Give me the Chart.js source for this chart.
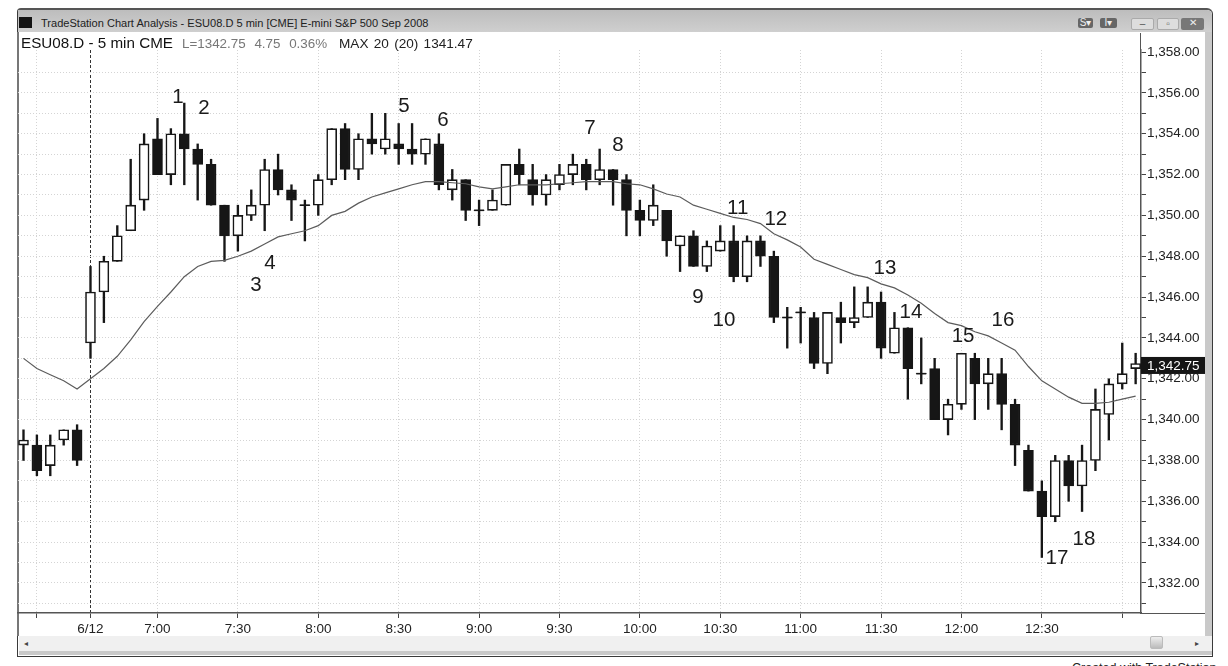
<!DOCTYPE html>
<html>
<head>
<meta charset="utf-8">
<title>ESU08.D 5 min</title>
<script src="https://cdn.jsdelivr.net/npm/chart.js@4"></script>
<style>
html,body{margin:0;padding:0;width:1228px;height:666px;overflow:hidden;background:#fff;font-family:"Liberation Sans",Arial,sans-serif;color:#1c1c1c}
.a{position:absolute;white-space:nowrap}
#win{left:17px;top:8px;width:1194px;height:646px;border:1px solid #3a3a3a;border-top:2px solid #555;border-radius:4px 6px 0 0;box-sizing:content-box;background:#fff}
#bar{left:18px;top:10px;width:1194px;height:22px;background:linear-gradient(#bdbdbd,#cfcfcf);border-radius:0 5px 0 0}
#ico{left:19px;top:17px;width:13px;height:11px;background:#141414}
#ttl{left:41px;top:17px;font-size:11.05px;color:#222}
#side{left:1205px;top:32px;width:7px;height:604px;background:#c9c9c9}
#left{left:17px;top:32px;width:2px;height:604px;background:#777}
#scroll{left:19px;top:636px;width:1193px;height:15px;background:#f0f0f0}
#strip{left:19px;top:651px;width:1193px;height:4px;background:#c9c9c9}
#hdr1{left:21px;top:34px;font-size:15.2px;color:#111;line-height:18px}
#hdr2{left:182px;top:35px;font-size:13.4px;color:#777;line-height:18px;word-spacing:5px}
#hdr3{left:339px;top:35px;font-size:13.6px;color:#222;line-height:18px;word-spacing:1.5px}
#axtop{left:1140px;top:33px;width:1px;height:18px;background:#555}
#axext{left:1141px;top:613px;width:64px;height:1px;background:#555}
.btn{top:18px;height:10px;border-radius:2px;font-size:10px;line-height:10px;text-align:center;color:#eee}
#thumb{left:1150px;top:636px;width:13px;height:13px;background:linear-gradient(#eee,#bbb);border:1px solid #bbb;border-radius:2px;box-sizing:border-box}
#la{left:24px;top:639px;font-size:8px;color:#444}
#ra{left:1195px;top:639px;font-size:8px;color:#444}
#cr{left:1072px;top:661px;font-size:12.5px;color:#222}
canvas{position:absolute;left:0;top:0}
</style>
</head>
<body>
<div class="a" id="win"></div>
<div class="a" id="bar"></div>
<div class="a" id="ico"></div>
<div class="a" id="ttl">TradeStation Chart Analysis - ESU08.D 5 min [CME] E-mini S&amp;P 500 Sep 2008</div>
<div class="a btn" style="left:1078px;width:15px;background:#666">S▾</div>
<div class="a btn" style="left:1100px;width:17px;background:#666">I▾</div>
<div class="a btn" style="left:1131px;width:23px;background:#ddd;color:#555;border:1px solid #aaa;box-sizing:border-box;height:12px">–</div>
<div class="a btn" style="left:1157px;width:22px;background:#ddd;color:#555;border:1px solid #aaa;box-sizing:border-box;height:12px">▫</div>
<div class="a btn" style="left:1181px;width:23px;background:#777;color:#eee;height:12px">✕</div>
<div class="a" id="side"></div>
<div class="a" id="left"></div>
<div class="a" id="scroll"></div>
<div class="a" id="strip"></div>
<div class="a" id="thumb"></div>
<div class="a" id="la">◂</div>
<div class="a" id="ra">▸</div>
<div class="a" id="cr">Created with TradeStation</div>
<canvas id="c" width="1228" height="666"></canvas>
<div class="a" id="hdr1">ESU08.D - 5 min CME</div>
<div class="a" id="hdr2">L=1342.75 4.75 0.36%</div>
<div class="a" id="hdr3">MAX 20 (20) 1341.47</div>
<div class="a" id="axtop"></div>
<div class="a" id="axext"></div>
<script>
// bar numbers run from -5 (prior session) to 78; bar 0 is the first of 6/12
const firstBar = -5;
const opens = [
 1338.75,1338.75,1337.75,1339,1339.5,
 1343.75,1346.25,1347.75,1349.25,1350.75,1353.75,1352,1354,1353.25,1352.5,1350.5,1349,1350,1350.5,1352.25,1351.25,1350.5,1350.5,1351.75,1354.25,1352.25,1353.75,1353.25,1353.5,1353.25,1353,
 1353.5,1351.25,1351.75,1350.25,1350.25,1350.5,1352.5,1351.75,1351,1351.5,1352,1352.5,1351.75,1352.25,1351.75,1350.25,1349.75,1350.25,1348.5,1349,1347.5,1348.25,1348.75,1347,1348.75,1348,1345,1345.25,1345,
 1342.75,1345,1344.75,1345,1345.75,1343.25,1344.5,1342.25,1342.5,1340,1340.75,1343,1341.75,1342.25,1340.75,1338.5,1336.5,1335.25,1338,1336.75,1338,1340.25,1341.75,1342.5];
const highs = [
 1339.5,1339.25,1339.25,1339.5,1339.75,
 1347.5,1348,1349.5,1352.75,1354,1354.75,1354.25,1355.5,1353.5,1352.75,1350.5,1350.5,1351.25,1352.75,1353,1351.5,1350.75,1352,1354.25,1354.5,1354,1355,1355,1354.5,1354.5,1353.75,
 1354,1352.25,1351.75,1350.75,1351.25,1352.5,1353.25,1352.5,1352,1352.5,1353,1352.75,1353.25,1352.25,1352,1350.75,1351.5,1350.25,1349,1349.25,1348.75,1349.5,1349.5,1349,1349,1348.25,1345.5,1345.5,1345.25,
 1345.25,1345.75,1346.5,1346.5,1346.25,1345.25,1344.5,1344,1343,1341,1343.25,1343.25,1343,1343,1341,1338.75,1337,1338.25,1338.25,1338.75,1341.5,1342,1343.75,1343.25];
const lows = [
 1338,1337.25,1337.25,1338.75,1337.75,
 1343,1344.75,1347.75,1349.25,1350.25,1352,1351.5,1351.5,1350.75,1350.5,1347.75,1348.25,1349.75,1349.25,1351,1349.75,1348.75,1350,1351.5,1351.75,1351.75,1353,1353,1352.5,1352.5,1352.5,
 1351.25,1350.75,1349.75,1349.5,1350.25,1350.5,1351.5,1350.5,1350.5,1351.25,1351.5,1351.25,1351.5,1350.5,1349,1349,1349.5,1348,1347.25,1347.5,1347.25,1348.25,1346.75,1346.75,1347.5,1344.75,1343.5,1343.75,1342.5,
 1342.25,1343.75,1344.5,1345,1343,1343.25,1341,1341.75,1340,1339.25,1340.5,1340,1340.5,1339.5,1337.75,1336.5,1333.25,1335,1336,1335.5,1337.5,1339,1341.5,1341.75];
const closes = [
 1339,1337.5,1338.75,1339.5,1338,
 1346.25,1347.75,1349,1350.5,1353.5,1352,1354,1353.25,1352.5,1350.5,1349,1350,1350.5,1352.25,1351.25,1350.75,1350.5,1351.75,1354.25,1352.25,1353.75,1353.5,1353.75,1353.25,1353,1353.75,
 1351.5,1351.75,1350.25,1350.25,1350.75,1352.5,1352,1351,1351.75,1352,1352.5,1351.75,1352.25,1351.75,1350.25,1349.75,1350.5,1348.75,1349,1347.5,1348.5,1348.75,1347,1348.75,1348,1345,1345,1345.25,1342.75,
 1345.25,1344.75,1345,1345.75,1343.5,1344.5,1342.5,1342.25,1340,1340.75,1343.25,1341.75,1342.25,1340.75,1338.75,1336.5,1335.25,1338,1336.75,1338,1340.5,1341.75,1342.25,1342.75];
const ma20 = [
 1343,1342.5,1342.2,1341.9,1341.5,
 1342,1342.5,1343.1,1343.9,1344.8,1345.55,1346.25,1347,1347.5,1347.75,1347.8,1348,1348.25,1348.6,1348.95,1349.1,1349.25,1349.5,1350,1350.2,1350.6,1350.9,1351.1,1351.3,1351.5,1351.65,
 1351.65,1351.6,1351.55,1351.4,1351.3,1351.4,1351.5,1351.5,1351.5,1351.55,1351.6,1351.65,1351.65,1351.65,1351.55,1351.5,1351.3,1351.05,1350.9,1350.5,1350.3,1350.1,1349.9,1349.8,1349.6,1349.1,1348.8,1348.45,1347.85,
 1347.6,1347.35,1347.1,1346.95,1346.65,1346.45,1346.1,1345.7,1345.2,1344.75,1344.6,1344.3,1344.1,1343.75,1343.4,1342.6,1341.9,1341.5,1341.1,1340.8,1340.8,1340.85,1341,1341.15];
const tickBars = [-4,0,5,11,17,23,29,35,41,47,53,59,65,71,77];
const tickLabels = ['','6/12','7:00','7:30','8:00','8:30','9:00','9:30','10:00','10:30','11:00','11:30','12:00','12:30',''];
const priceTicks = [1358,1357,1356,1355,1354,1353,1352,1351,1350,1349,1348,1347,1346,1345,1344,1343,1342,1341,1340,1339,1338,1337,1336,1335,1334,1333,1332,1331];
const noteText = ['1','2','3','4','5','6','7','8','9','10','11','12','13','14','15','16','17','18'];
const noteBar = [6.53,8.47,12.35,13.4,23.4,26.3,37.28,39.37,45.34,47.28,48.3,51.15,59.29,61.23,65.12,68.1,72.13,74.14];
const notePrice = [1355.8,1355.26,1346.59,1347.67,1355.36,1354.67,1354.28,1353.45,1346,1344.88,1350.36,1349.82,1347.42,1345.27,1344.09,1344.88,1333.22,1334.15];

const FONT = '"Liberation Sans", Arial, sans-serif';
const INK = '#161616';
const GRID = '#d4d4d4';
const money = v => v.toLocaleString('en-US',{minimumFractionDigits:2,maximumFractionDigits:2});
const bars = opens.map((o,i)=>firstBar+i);

const overlay = {
  id:'overlay',
  afterDatasetsDraw(chart){
    const {ctx,scales:{x,y}} = chart;
    ctx.save();
    ctx.fillStyle = '#1a1a1a';
    ctx.font = '20.5px '+FONT;
    ctx.textAlign = 'center';
    ctx.textBaseline = 'middle';
    noteText.forEach((t,i)=>ctx.fillText(t,x.getPixelForValue(noteBar[i]),y.getPixelForValue(notePrice[i])));
    const last = closes[closes.length-1];
    const py = y.getPixelForValue(last);
    ctx.fillStyle = '#151515';
    ctx.fillRect(chart.chartArea.right,py-6.5,64,17);
    ctx.fillStyle = '#fff';
    ctx.font = '13.5px '+FONT;
    ctx.textAlign = 'left';
    ctx.fillText(money(last),chart.chartArea.right+6,py+2.5);
    ctx.restore();
  }
};

new Chart(document.getElementById('c'),{
  data:{datasets:[
    {type:'line',label:'MAX 20',data:bars.map((b,i)=>({x:b,y:ma20[i]})),borderColor:'#5c5c5c',borderWidth:1.2,pointRadius:0,tension:0,order:0},
    {type:'line',label:'Doji',data:bars.map((b,i)=>({x:b,y:opens[i]===closes[i]?closes[i]:null})),showLine:false,pointStyle:'line',pointRadius:5,pointBorderWidth:1.6,pointBorderColor:INK,order:1},
    {type:'bar',label:'Body',data:bars.map((b,i)=>({x:b,y:[Math.min(opens[i],closes[i]),Math.max(opens[i],closes[i])]})),
      backgroundColor:bars.map((b,i)=>closes[i]>opens[i]?'#ffffff':INK),borderColor:INK,borderWidth:bars.map((b,i)=>opens[i]===closes[i]?0:1.6),borderSkipped:false,barThickness:10,grouped:false,order:2},
    {type:'bar',label:'Range',data:bars.map((b,i)=>({x:b,y:[lows[i],highs[i]]})),backgroundColor:INK,borderWidth:0,barThickness:1.7,grouped:false,order:3}
  ]},
  options:{
    responsive:false,animation:false,devicePixelRatio:1,
    layout:{padding:{left:18,top:50,right:23,bottom:30}},
    plugins:{legend:{display:false},tooltip:{enabled:false},title:{display:false}},
    scales:{
      x:{type:'linear',offset:false,min:-5.41,max:78.4,position:'bottom',
        afterBuildTicks:s=>{s.ticks=tickBars.map(v=>({value:v}));},
        afterFit:s=>{s.height=23;},
        grid:{offset:false,color:c=>c.tick&&c.tick.value===0?'#333':GRID,lineWidth:1,tickColor:'#444',tickLength:5,tickBorderDash:[]},
        border:{color:'#555',width:1.5,dash:c=>c.tick&&c.tick.value===0?[3,2]:[1,2]},
        ticks:{autoSkip:false,maxRotation:0,minRotation:0,padding:3,color:'#222',font:{family:FONT,size:13.5},
          callback:v=>{const k=tickBars.indexOf(v);return k<0?'':tickLabels[k];}}
      },
      y:{type:'linear',min:1330.53,max:1358.1,position:'right',
        afterBuildTicks:s=>{s.ticks=priceTicks.map(v=>({value:v}));},
        afterFit:s=>{s.width=64;},
        grid:{color:c=>c.tick&&c.tick.value===1358?'rgba(0,0,0,0)':GRID,lineWidth:1,tickColor:'#444',tickLength:5,tickBorderDash:[]},
        border:{color:'#555',width:1.5,dash:[1,2]},
        ticks:{autoSkip:false,padding:1,color:'#222',font:{family:FONT,size:13.5},
          callback:v=>v%2===0?money(v):''}
      }
    }
  },
  plugins:[overlay]
});
</script>
</body>
</html>
